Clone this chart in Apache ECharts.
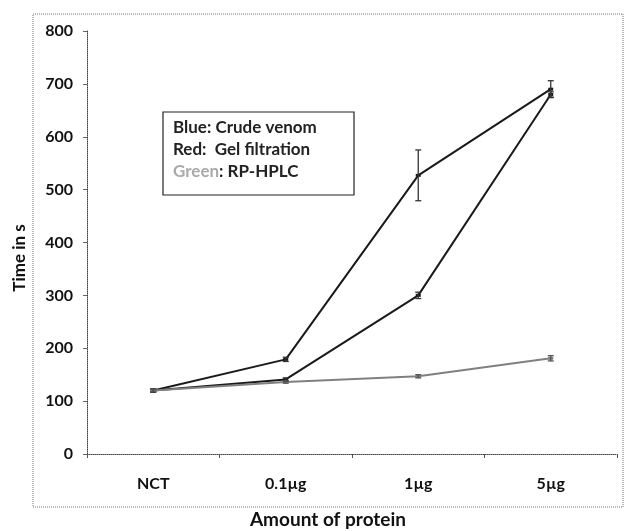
<!DOCTYPE html>
<html><head><meta charset="utf-8">
<script src="https://cdn.jsdelivr.net/npm/echarts@6/dist/echarts.min.js"></script>
<style>html,body{margin:0;padding:0;background:#fff}#c{width:626px;height:531px}</style>
</head><body><div id="c"></div>
<script>
const categories = ['NCT', '0.1µg', '1µg', '5µg'];
const crudeVenom = [120, 179, 527, 690];
const crudeVenomErr = [3, 4, 48, 16];
const gelFiltration = [120, 141, 300, 680];
const gelFiltrationErr = [3, 3, 6, 5];
const rpHplc = [120, 136, 147, 181];
const rpHplcErr = [2, 2, 3, 5];
const yTicks = [0, 100, 200, 300, 400, 500, 600, 700, 800];

const font = 'Lato';
function errSeries(vals, errs, color) {
  return {
    type: 'custom',
    renderItem: function (params, api) {
      const x = api.value(0);
      const hi = api.coord([x, api.value(1)]);
      const lo = api.coord([x, api.value(2)]);
      const w = 3;
      const st = { stroke: color, lineWidth: 1.3 };
      return { type: 'group', children: [
        { type: 'line', shape: { x1: hi[0], y1: hi[1], x2: lo[0], y2: lo[1] }, style: st },
        { type: 'line', shape: { x1: hi[0] - w, y1: hi[1], x2: hi[0] + w, y2: hi[1] }, style: st },
        { type: 'line', shape: { x1: lo[0] - w, y1: lo[1], x2: lo[0] + w, y2: lo[1] }, style: st }
      ]};
    },
    data: vals.map((v, i) => [i, v + errs[i], v - errs[i]]),
    z: 5
  };
}
function lineSeries(name, vals, color, width, type) {
  return {
    name: name, type: 'line', data: vals,
    symbol: 'rect', symbolSize: [5, 3],
    itemStyle: { color: color },
    lineStyle: { color: color, width: width, type: type },
    z: 4
  };
}
const chart = echarts.init(document.getElementById('c'), null, { renderer: 'canvas' });
chart.setOption({
  animation: false,
  backgroundColor: '#fff',
  grid: { left: 87, right: 9, top: 31, bottom: 77 },
  xAxis: {
    type: 'category', data: categories, boundaryGap: true,
    axisLine: { lineStyle: { color: '#444', width: 1, type: 'dotted' } },
    axisTick: { show: true, length: 4, lineStyle: { color: '#555' } },
    axisLabel: { fontFamily: font, fontWeight: 'bold', fontSize: 16, color: '#111', margin: 22 },
    splitLine: { show: false }
  },
  yAxis: {
    type: 'value', min: 0, max: 800, interval: 100,
    axisLine: { show: true, lineStyle: { color: '#444', width: 1, type: 'dotted' } },
    axisTick: { show: true, length: 4, lineStyle: { color: '#666' } },
    axisLabel: { fontFamily: font, fontWeight: 'bold', fontSize: 16, color: '#111', margin: 14,
      formatter: v => yTicks.includes(v) ? String(v) : '' },
    splitLine: { show: false }
  },
  graphic: [
    { type: 'rect', shape: { x: 33, y: 14, width: 590, height: 493 },
      style: { fill: 'none', stroke: '#777', lineWidth: 1, lineDash: [1, 1] }, z: 0 },
    { type: 'rect', shape: { x: 163, y: 112, width: 191, height: 83 },
      style: { fill: '#fff', stroke: '#222', lineWidth: 1.2 }, z: 10 },
    { type: 'text', x: 173, y: 128, z: 11, style: { text: 'Blue: Crude venom', font: 'bold 17px Lato', fill: '#222', verticalAlign: 'middle' } },
    { type: 'text', x: 173, y: 150, z: 11, style: { text: 'Red:  Gel filtration', font: 'bold 17px Lato', fill: '#222', verticalAlign: 'middle' } },
    { type: 'text', x: 173, y: 172, z: 11, style: { rich: { g: { font: 'bold 17px Lato', fill: '#aaa' }, b: { font: 'bold 17px Lato', fill: '#222' } }, text: '{g|Green}{b|: RP-HPLC}', verticalAlign: 'middle' } },
    { type: 'text', x: 328, y: 520, z: 11, style: { text: 'Amount of protein', font: 'bold 19px Lato', fill: '#111', align: 'center', verticalAlign: 'middle' } },
    { type: 'text', x: 20, y: 258, rotation: Math.PI / 2, z: 11, style: { text: 'Time in s', font: 'bold 17px Lato', fill: '#111', align: 'center', verticalAlign: 'middle' } }
  ],
  series: [
    lineSeries('Crude venom', crudeVenom, '#1a1a1a', 2, 'solid'),
    lineSeries('Gel filtration', gelFiltration, '#1a1a1a', 2, 'solid'),
    lineSeries('RP-HPLC', rpHplc, '#808080', 2, 'solid'),
    errSeries(crudeVenom, crudeVenomErr, '#333'),
    errSeries(gelFiltration, gelFiltrationErr, '#333'),
    errSeries(rpHplc, rpHplcErr, '#555')
  ]
});
</script></body></html>
